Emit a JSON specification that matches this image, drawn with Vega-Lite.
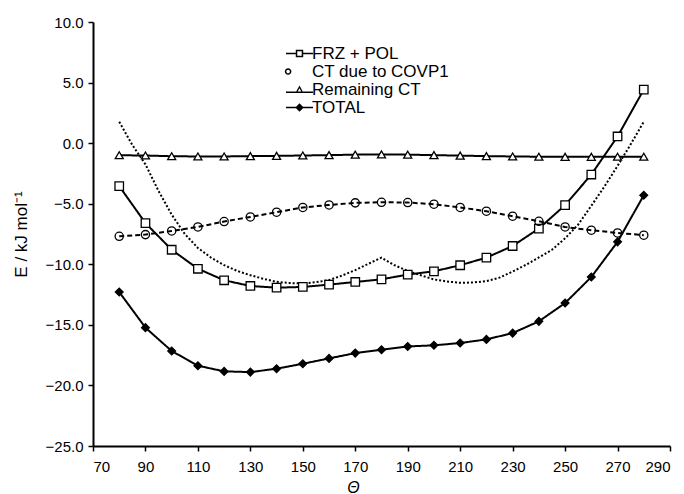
{
  "$schema": "https://vega.github.io/schema/vega-lite/v6.json",
  "autosize": "none",
  "width": 577,
  "height": 424,
  "padding": {"left": 93, "top": 22, "right": 14, "bottom": 48},
  "background": "white",
  "config": {
    "view": {"stroke": null},
    "font": "Liberation Sans",
    "axis": {
      "grid": false,
      "domainColor": "black",
      "domainWidth": 2,
      "tickColor": "black",
      "tickWidth": 1.5,
      "tickSize": 5,
      "labelFont": "Liberation Sans",
      "labelFontSize": 15,
      "labelColor": "black",
      "titleFont": "Liberation Sans",
      "titleFontWeight": "normal",
      "titleColor": "black",
      "titleFontSize": 17
    },
    "legend": {"symbolOpacity": 1}
  },
  "datasets": {
    "main": [
      {"t": 80, "s": "FRZ + POL", "e": -3.55}, {"t": 90, "s": "FRZ + POL", "e": -6.6}, {"t": 100, "s": "FRZ + POL", "e": -8.8}, {"t": 110, "s": "FRZ + POL", "e": -10.37}, {"t": 120, "s": "FRZ + POL", "e": -11.32}, {"t": 130, "s": "FRZ + POL", "e": -11.79}, {"t": 140, "s": "FRZ + POL", "e": -11.93}, {"t": 150, "s": "FRZ + POL", "e": -11.87}, {"t": 160, "s": "FRZ + POL", "e": -11.68}, {"t": 170, "s": "FRZ + POL", "e": -11.46}, {"t": 180, "s": "FRZ + POL", "e": -11.24}, {"t": 190, "s": "FRZ + POL", "e": -10.85}, {"t": 200, "s": "FRZ + POL", "e": -10.58}, {"t": 210, "s": "FRZ + POL", "e": -10.08}, {"t": 220, "s": "FRZ + POL", "e": -9.45}, {"t": 230, "s": "FRZ + POL", "e": -8.49}, {"t": 240, "s": "FRZ + POL", "e": -7.05}, {"t": 250, "s": "FRZ + POL", "e": -5.12}, {"t": 260, "s": "FRZ + POL", "e": -2.59}, {"t": 270, "s": "FRZ + POL", "e": 0.55}, {"t": 280, "s": "FRZ + POL", "e": 4.42},
      {"t": 80, "s": "CT due to COVP1", "e": -7.69}, {"t": 90, "s": "CT due to COVP1", "e": -7.55}, {"t": 100, "s": "CT due to COVP1", "e": -7.25}, {"t": 110, "s": "CT due to COVP1", "e": -6.92}, {"t": 120, "s": "CT due to COVP1", "e": -6.47}, {"t": 130, "s": "CT due to COVP1", "e": -6.09}, {"t": 140, "s": "CT due to COVP1", "e": -5.7}, {"t": 150, "s": "CT due to COVP1", "e": -5.31}, {"t": 160, "s": "CT due to COVP1", "e": -5.1}, {"t": 170, "s": "CT due to COVP1", "e": -4.93}, {"t": 180, "s": "CT due to COVP1", "e": -4.88}, {"t": 190, "s": "CT due to COVP1", "e": -4.9}, {"t": 200, "s": "CT due to COVP1", "e": -5.04}, {"t": 210, "s": "CT due to COVP1", "e": -5.31}, {"t": 220, "s": "CT due to COVP1", "e": -5.62}, {"t": 230, "s": "CT due to COVP1", "e": -6.03}, {"t": 240, "s": "CT due to COVP1", "e": -6.45}, {"t": 250, "s": "CT due to COVP1", "e": -6.92}, {"t": 260, "s": "CT due to COVP1", "e": -7.19}, {"t": 270, "s": "CT due to COVP1", "e": -7.41}, {"t": 280, "s": "CT due to COVP1", "e": -7.6},
      {"t": 80, "s": "Remaining CT", "e": -1.0}, {"t": 90, "s": "Remaining CT", "e": -1.02}, {"t": 100, "s": "Remaining CT", "e": -1.08}, {"t": 110, "s": "Remaining CT", "e": -1.1}, {"t": 120, "s": "Remaining CT", "e": -1.1}, {"t": 130, "s": "Remaining CT", "e": -1.07}, {"t": 140, "s": "Remaining CT", "e": -1.05}, {"t": 150, "s": "Remaining CT", "e": -1.02}, {"t": 160, "s": "Remaining CT", "e": -0.99}, {"t": 170, "s": "Remaining CT", "e": -0.95}, {"t": 180, "s": "Remaining CT", "e": -0.93}, {"t": 190, "s": "Remaining CT", "e": -0.95}, {"t": 200, "s": "Remaining CT", "e": -0.99}, {"t": 210, "s": "Remaining CT", "e": -1.03}, {"t": 220, "s": "Remaining CT", "e": -1.07}, {"t": 230, "s": "Remaining CT", "e": -1.1}, {"t": 240, "s": "Remaining CT", "e": -1.12}, {"t": 250, "s": "Remaining CT", "e": -1.13}, {"t": 260, "s": "Remaining CT", "e": -1.13}, {"t": 270, "s": "Remaining CT", "e": -1.12}, {"t": 280, "s": "Remaining CT", "e": -1.12},
      {"t": 80, "s": "TOTAL", "e": -12.29}, {"t": 90, "s": "TOTAL", "e": -15.23}, {"t": 100, "s": "TOTAL", "e": -17.16}, {"t": 110, "s": "TOTAL", "e": -18.37}, {"t": 120, "s": "TOTAL", "e": -18.84}, {"t": 130, "s": "TOTAL", "e": -18.9}, {"t": 140, "s": "TOTAL", "e": -18.62}, {"t": 150, "s": "TOTAL", "e": -18.21}, {"t": 160, "s": "TOTAL", "e": -17.77}, {"t": 170, "s": "TOTAL", "e": -17.33}, {"t": 180, "s": "TOTAL", "e": -17.05}, {"t": 190, "s": "TOTAL", "e": -16.78}, {"t": 200, "s": "TOTAL", "e": -16.69}, {"t": 210, "s": "TOTAL", "e": -16.5}, {"t": 220, "s": "TOTAL", "e": -16.2}, {"t": 230, "s": "TOTAL", "e": -15.68}, {"t": 240, "s": "TOTAL", "e": -14.71}, {"t": 250, "s": "TOTAL", "e": -13.2}, {"t": 260, "s": "TOTAL", "e": -11.05}, {"t": 270, "s": "TOTAL", "e": -8.15}, {"t": 280, "s": "TOTAL", "e": -4.3}
    ],
    "dotted": [
      {"t": 80, "e": 1.76}, {"t": 85, "e": -0.15}, {"t": 90, "e": -1.75}, {"t": 95, "e": -3.95}, {"t": 100, "e": -5.9}, {"t": 105, "e": -7.5}, {"t": 110, "e": -8.65}, {"t": 115, "e": -9.45}, {"t": 120, "e": -10.07}, {"t": 125, "e": -10.55}, {"t": 130, "e": -10.9}, {"t": 135, "e": -11.2}, {"t": 140, "e": -11.45}, {"t": 145, "e": -11.55}, {"t": 150, "e": -11.58}, {"t": 155, "e": -11.48}, {"t": 160, "e": -11.3}, {"t": 165, "e": -10.93}, {"t": 170, "e": -10.48}, {"t": 175, "e": -9.96}, {"t": 180, "e": -9.45}, {"t": 185, "e": -10.08}, {"t": 190, "e": -10.55}, {"t": 195, "e": -10.91}, {"t": 200, "e": -11.25}, {"t": 205, "e": -11.42}, {"t": 210, "e": -11.53}, {"t": 215, "e": -11.5}, {"t": 220, "e": -11.39}, {"t": 225, "e": -11.1}, {"t": 230, "e": -10.6}, {"t": 235, "e": -10.05}, {"t": 240, "e": -9.43}, {"t": 245, "e": -8.8}, {"t": 250, "e": -7.86}, {"t": 255, "e": -6.72}, {"t": 260, "e": -5.17}, {"t": 265, "e": -3.58}, {"t": 270, "e": -1.88}, {"t": 275, "e": -0.1}, {"t": 280, "e": 1.76}
    ]
  },
  "encoding": {
    "x": {
      "field": "t", "type": "quantitative",
      "scale": {"domain": [70, 290], "nice": false, "zero": false},
      "axis": {
        "values": [70, 90, 110, 130, 150, 170, 190, 210, 230, 250, 270, 290],
        "labelPadding": 8,
        "title": "Θ",
        "titleFontStyle": "italic",
        "titleFontSize": 16,
        "titleX": 260,
        "titleY": 33,
        "titleAlign": "center",
        "titleBaseline": "top"
      }
    },
    "y": {
      "field": "e", "type": "quantitative",
      "scale": {"domain": [-25, 10], "nice": false, "zero": false},
      "axis": {
        "values": [-25, -20, -15, -10, -5, 0, 5, 10],
        "format": ".1f",
        "labelPadding": 5,
        "title": "E / kJ mol⁻¹",
        "titleX": -72,
        "titleY": 212,
        "titleAngle": -90,
        "titleAlign": "center",
        "titleBaseline": "middle"
      }
    }
  },
  "layer": [
    {
      "data": {"name": "dotted"},
      "mark": {"type": "line", "color": "black", "strokeWidth": 2, "strokeDash": [2, 2]},
      "encoding": {}
    },
    {
      "data": {"name": "main"},
      "mark": {"type": "line", "color": "black"},
      "encoding": {
        "detail": {"field": "s"},
        "strokeDash": {
          "field": "s", "type": "nominal", "legend": null,
          "scale": {"domain": ["FRZ + POL", "CT due to COVP1", "Remaining CT", "TOTAL"], "range": [[1, 0], [5, 3], [1, 0], [1, 0]]}
        },
        "strokeWidth": {
          "field": "s", "type": "nominal", "legend": null,
          "scale": {"domain": ["FRZ + POL", "CT due to COVP1", "Remaining CT", "TOTAL"], "range": [2, 2, 2, 2.5]}
        }
      }
    },
    {
      "data": {"name": "main"},
      "mark": {"type": "point", "filled": true, "opacity": 1, "stroke": "black", "strokeWidth": 1.3},
      "encoding": {
        "shape": {
          "field": "s", "type": "nominal", "legend": null,
          "scale": {"domain": ["FRZ + POL", "CT due to COVP1", "Remaining CT", "TOTAL"], "range": ["square", "circle", "triangle-up", "diamond"]}
        },
        "fill": {
          "field": "s", "type": "nominal", "legend": null,
          "scale": {"domain": ["FRZ + POL", "CT due to COVP1", "Remaining CT", "TOTAL"], "range": ["white", "transparent", "white", "black"]}
        },
        "size": {
          "field": "s", "type": "nominal", "legend": null,
          "scale": {"domain": ["FRZ + POL", "CT due to COVP1", "Remaining CT", "TOTAL"], "range": [72, 60, 64, 90]}
        }
      }
    },
    {
      "data": {"name": "main"},
      "transform": [{"filter": "datum.t < 0"}],
      "mark": {"type": "point", "filled": true, "opacity": 1, "strokeWidth": 0, "size": 144},
      "encoding": {
        "shape": {
          "field": "s", "type": "nominal",
          "scale": {
            "domain": ["FRZ + POL", "CT due to COVP1", "Remaining CT", "TOTAL"],
            "range": [
              "M-2.25,-0.125H-0.62V0.125H-2.25Z M0.62,-0.125H2.25V0.125H0.62Z M-0.62,-0.62H0.62V0.62H-0.62Z M-0.37,-0.37V0.37H0.37V-0.37Z",
              "M-1.35,0A0.55,0.55 0 1,1 -2.45,0A0.55,0.55 0 1,1 -1.35,0Z M-1.6,0A0.3,0.3 0 1,0 -2.2,0A0.3,0.3 0 1,0 -1.6,0Z",
              "M-2.25,0.325H-0.6V0.575H-2.25Z M0.6,0.325H2.25V0.575H0.6Z M-0.68,0.575L0,-0.65L0.68,0.575Z M-0.3,0.33L0.3,0.33L0,-0.2Z",
              "M-2.25,-0.125H2.25V0.125H-2.25Z M-0.7,0L0,-0.7L0.7,0L0,0.7Z"
            ]
          },
          "legend": {
            "title": null,
            "orient": "none",
            "legendX": 198,
            "legendY": 23,
            "padding": 0,
            "labelOffset": 4,
            "rowPadding": 0,
            "symbolSize": 144,
            "symbolStrokeWidth": 0,
            "labelFont": "Liberation Sans",
            "labelFontSize": 17,
            "labelColor": "black",
            "labelLimit": 300
          }
        },
        "fill": {
          "field": "s", "type": "nominal",
          "scale": {"domain": ["FRZ + POL", "CT due to COVP1", "Remaining CT", "TOTAL"], "range": ["black", "black", "black", "black"]}
        }
      }
    }
  ],
  "resolve": {"scale": {"shape": "independent", "fill": "independent", "size": "independent"}}
}
